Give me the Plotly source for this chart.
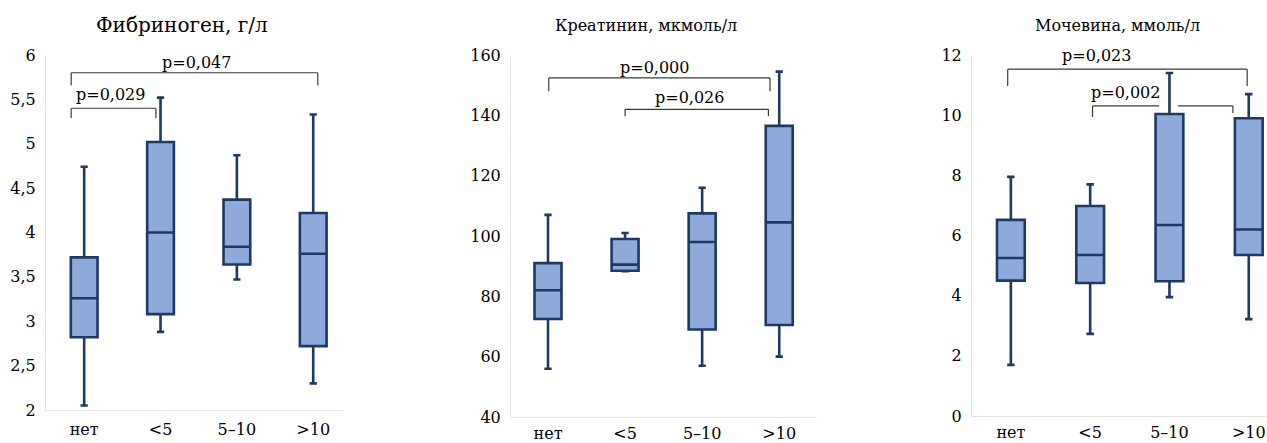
import plotly.graph_objects as go

# Group labels (years)
groups = ["нет", "<5", "5–10", ">10"]

# Fibrinogen, g/l: box statistics per group
fib_low = [2.05, 2.88, 3.47, 2.30]
fib_q1 = [2.82, 3.08, 3.64, 2.72]
fib_med = [3.26, 4.00, 3.84, 3.76]
fib_q3 = [3.72, 5.02, 4.37, 4.22]
fib_high = [4.74, 5.52, 4.87, 5.33]

# Creatinine, umol/l
cre_low = [56, 88.3, 57, 60]
cre_q1 = [72.5, 88.5, 69, 70.5]
cre_med = [82, 90.5, 98, 104.5]
cre_q3 = [91, 99, 107.5, 136.5]
cre_high = [107, 101, 116, 154.5]

# Urea, mmol/l
ure_low = [1.7, 2.73, 3.95, 3.22]
ure_q1 = [4.5, 4.42, 4.48, 5.35]
ure_med = [5.25, 5.35, 6.35, 6.2]
ure_q3 = [6.52, 6.98, 10.04, 9.9]
ure_high = [7.95, 7.7, 11.4, 10.7]

titles = ["Фибриноген, г/л", "Креатинин, мкмоль/л", "Мочевина, ммоль/л"]

fib_ticks = [2, 2.5, 3, 3.5, 4, 4.5, 5, 5.5, 6]
fib_ticktext = ["2", "2,5", "3", "3,5", "4", "4,5", "5", "5,5", "6"]
cre_ticks = [40, 60, 80, 100, 120, 140, 160]
ure_ticks = [0, 2, 4, 6, 8, 10, 12]

# Significance brackets: (panel, label, x_left, x_right, y_bar, y_leg_left, y_leg_right, label_x, label_y)
brackets = [
    (1, "p=0,047", -0.17, 3.06, 5.80, 5.66, 5.66, 1.47, 5.92),
    (1, "p=0,029", -0.17, 0.94, 5.40, 5.29, 5.29, 0.35, 5.55),
    (2, "p=0,000", 0.01, 2.88, 152.4, 148.0, 148.0, 1.38, 156.0),
    (2, "p=0,026", 1.00, 2.86, 142.0, 139.7, 139.7, 1.84, 146.0),
    (3, "p=0,023", -0.04, 2.98, 11.53, 10.97, 10.97, 1.08, 12.0),
    (3, "p=0,002", 1.03, 2.80, 10.31, 9.94, 10.07, 1.44, 10.74),
]
# break in the p=0,002 bar around the 5–10 whisker
bar_gaps = {(3, "p=0,002"): (1.87, 2.11)}

W, H = 1267, 443
FILL = "#8eaadb"
EDGE = "#203864"
GRID = "#e4e4e4"
SERIF = "DejaVu Serif"

# pixel layout of each panel: x0, x1, y_top, y_bottom
panels = [
    dict(px=(46, 343), py=(55, 410), xr=[-0.5, 3.39], yr=[2, 6], xtl=5,
         low=fib_low, q1=fib_q1, med=fib_med, q3=fib_q3, high=fib_high,
         tv=fib_ticks, tt=fib_ticktext, title_x=182, title_size=20),
    dict(px=(511, 817), py=(55, 417), xr=[-0.48, 3.49], yr=[40, 160], xtl=2,
         low=cre_low, q1=cre_q1, med=cre_med, q3=cre_q3, high=cre_high,
         tv=cre_ticks, tt=[str(v) for v in cre_ticks], title_x=646, title_size=16),
    dict(px=(972, 1267), py=(55, 416), xr=[-0.49, 3.23], yr=[0, 12], xtl=2,
         low=ure_low, q1=ure_q1, med=ure_med, q3=ure_q3, high=ure_high,
         tv=ure_ticks, tt=[str(v) for v in ure_ticks], title_x=1117, title_size=16),
]

fig = go.Figure()
layout = dict(
    width=W, height=H, margin=dict(l=0, r=0, t=0, b=0, autoexpand=False),
    paper_bgcolor="white", plot_bgcolor="white", showlegend=False,
    font=dict(family=SERIF, color="black", size=16),
    boxgap=0.5,
)
shapes = []
annotations = []

for i, p in enumerate(panels, start=1):
    xs = "x" if i == 1 else f"x{i}"
    ys = "y" if i == 1 else f"y{i}"
    fig.add_trace(go.Box(
        x=groups, q1=p["q1"], median=p["med"], q3=p["q3"],
        lowerfence=p["low"], upperfence=p["high"],
        fillcolor=FILL, line=dict(color=EDGE, width=2.6),
        whiskerwidth=0.27, boxpoints=False, hoverinfo="skip",
        xaxis=xs, yaxis=ys,
    ))
    xk = "xaxis" if i == 1 else f"xaxis{i}"
    yk = "yaxis" if i == 1 else f"yaxis{i}"
    layout[xk] = dict(
        domain=[p["px"][0] / W, p["px"][1] / W], anchor=ys, automargin=False,
        range=p["xr"], type="category", showline=True, linecolor=GRID, linewidth=1,
        showgrid=False, zeroline=False, ticks="outside", ticklen=p["xtl"],
        tickcolor="rgba(0,0,0,0)", tickfont=dict(size=16, family=SERIF, color="black"),
    )
    layout[yk] = dict(
        domain=[1 - p["py"][1] / H, 1 - p["py"][0] / H], anchor=xs, automargin=False,
        range=p["yr"], showline=True, linecolor=GRID, linewidth=1,
        showgrid=False, zeroline=False, tickvals=p["tv"], ticktext=p["tt"],
        ticks="outside", ticklen=6, tickcolor="rgba(0,0,0,0)",
        tickfont=dict(size=16, family=SERIF, color="black"),
    )
    annotations.append(dict(
        text=titles[i - 1], xref="paper", yref="paper",
        x=p["title_x"] / W, y=1 - 25 / H, xanchor="center", yanchor="middle",
        showarrow=False, font=dict(size=p["title_size"], family=SERIF, color="black"),
    ))

for (pi, label, xl, xr, yb, yll, ylr, lx, ly) in brackets:
    xs = "x" if pi == 1 else f"x{pi}"
    ys = "y" if pi == 1 else f"y{pi}"
    style = dict(color="#3a3a3a", width=1.2)
    gap = bar_gaps.get((pi, label))
    if gap:
        segs = [(xl, gap[0]), (gap[1], xr)]
    else:
        segs = [(xl, xr)]
    for a, b in segs:
        shapes.append(dict(type="line", xref=xs, yref=ys, x0=a, x1=b, y0=yb, y1=yb, line=style))
    shapes.append(dict(type="line", xref=xs, yref=ys, x0=xl, x1=xl, y0=yb, y1=yll, line=style))
    shapes.append(dict(type="line", xref=xs, yref=ys, x0=xr, x1=xr, y0=yb, y1=ylr, line=style))
    annotations.append(dict(
        text=label, xref=xs, yref=ys, x=lx, y=ly, xanchor="center", yanchor="middle",
        showarrow=False, font=dict(size=16, family=SERIF, color="black"),
    ))

layout["shapes"] = shapes
layout["annotations"] = annotations
fig.update_layout(**layout)
fig.write_html("out.html")
